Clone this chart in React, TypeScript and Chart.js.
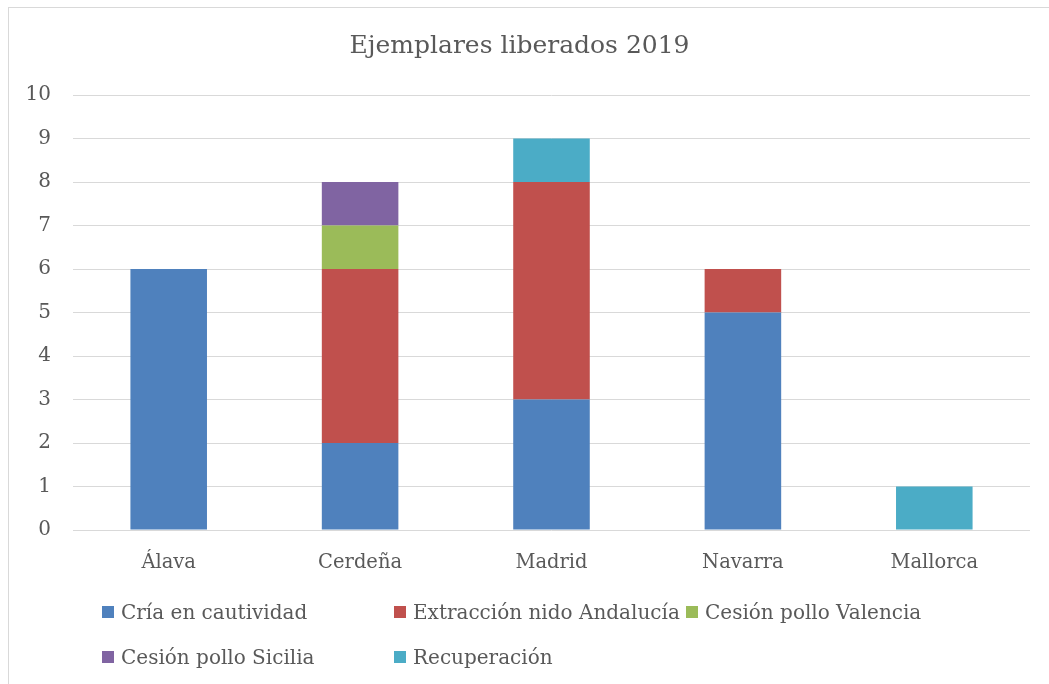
import React, { useEffect, useRef } from "react";
import { Chart, registerables } from "chart.js";

Chart.register(...registerables);

const titleText = "Ejemplares liberados 2019";
const categories = ["Álava", "Cerdeña", "Madrid", "Navarra", "Mallorca"];
const criaCautividad = [6, 2, 3, 5, 0];
const extraccionAndalucia = [0, 4, 5, 1, 0];
const cesionValencia = [0, 1, 0, 0, 0];
const cesionSicilia = [0, 1, 0, 0, 0];
const recuperacion = [0, 0, 1, 0, 1];
const seriesNames = [
  "Cría en cautividad",
  "Extracción nido Andalucía",
  "Cesión pollo Valencia",
  "Cesión pollo Sicilia",
  "Recuperación",
];
const seriesValues = [criaCautividad, extraccionAndalucia, cesionValencia, cesionSicilia, recuperacion];
const seriesColors = ["#4F81BD", "#C0504D", "#9BBB59", "#8064A2", "#4BACC6"];
const yMin = 0;
const yMax = 10;
const yStep = 1;

const FONT = "'DejaVu Serif', serif";
const TEXT = "#595959";
const GRID = "#d9d9d9";

export default function App() {
  const ref = useRef<HTMLCanvasElement | null>(null);

  useEffect(() => {
    if (!ref.current) return;
    const chart = new Chart(ref.current, {
      type: "bar",
      data: {
        labels: categories,
        datasets: seriesNames.map((name, i) => ({
          label: name,
          data: seriesValues[i],
          backgroundColor: seriesColors[i],
          borderWidth: 0,
          barPercentage: 0.4,
          categoryPercentage: 1,
        })),
      },
      options: {
        responsive: false,
        animation: false,
        devicePixelRatio: 1,
        layout: { padding: { left: 0, right: 19, top: 0, bottom: 0 } },
        plugins: {
          legend: { display: false },
          tooltip: { enabled: false },
          title: {
            display: true,
            text: titleText,
            color: TEXT,
            font: { family: FONT, size: 25, weight: "normal" },
            padding: { top: 23, bottom: 34 },
          },
        },
        scales: {
          x: {
            stacked: true,
            grid: { display: false },
            border: { display: false },
            ticks: {
              color: TEXT,
              font: { family: FONT, size: 19.5 },
              padding: 13,
              maxRotation: 0,
              autoSkip: false,
            },
            afterFit: (scale: any) => {
              scale.height = 154;
            },
          },
          y: {
            stacked: true,
            min: yMin,
            max: yMax,
            grid: { color: GRID, lineWidth: 1, drawTicks: false },
            border: { display: false },
            ticks: {
              stepSize: yStep,
              color: TEXT,
              font: { family: FONT, size: 20 },
              padding: 22,
            },
            afterFit: (scale: any) => {
              scale.width = 64;
            },
          },
        },
      },
    });
    return () => chart.destroy();
  }, []);

  return (
    <div
      style={{
        position: "absolute",
        left: 8,
        top: 7,
        width: 1041,
        height: 677,
        boxSizing: "border-box",
        borderLeft: "1px solid #d9d9d9",
        borderTop: "1px solid #d9d9d9",
        background: "#fff",
        overflow: "hidden",
      }}
    >
      <canvas ref={ref} width={1040} height={676} style={{ display: "block" }} />
      {seriesNames.map((name, i) => {
        const col = i % 3;
        const row = Math.floor(i / 3);
        return (
          <div
            key={name}
            style={{
              position: "absolute",
              left: 93 + col * 292,
              top: 604 + row * 45 - 14,
              height: 28,
              display: "flex",
              alignItems: "center",
              fontFamily: FONT,
              fontSize: 20,
              color: TEXT,
              whiteSpace: "nowrap",
            }}
          >
            <span
              style={{
                display: "inline-block",
                width: 12,
                height: 12,
                background: seriesColors[i],
                marginRight: 7,
              }}
            />
            <span>{name}</span>
          </div>
        );
      })}
    </div>
  );
}
